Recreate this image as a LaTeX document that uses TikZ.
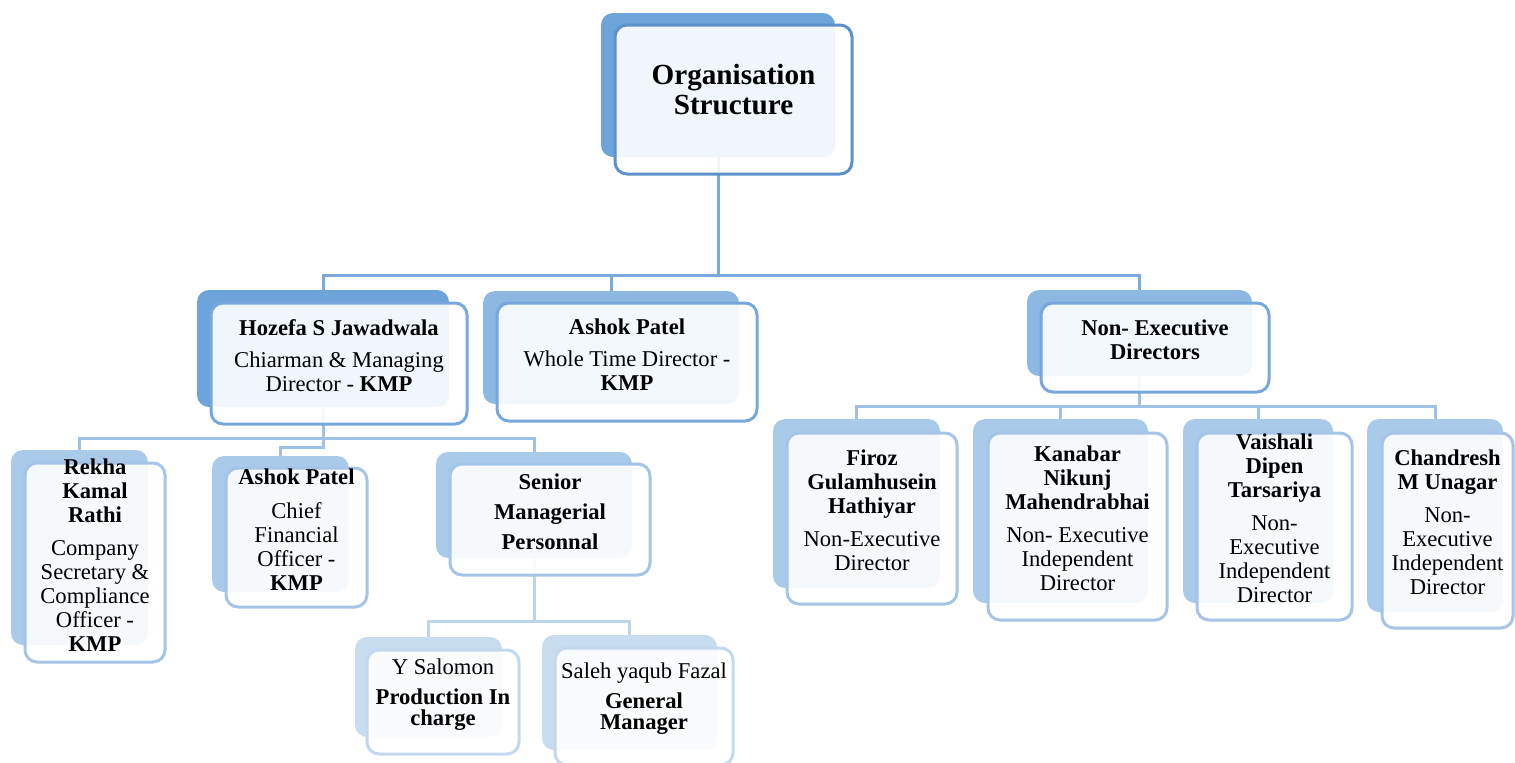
\documentclass[tikz,border=0pt]{standalone}
\usepackage{fontspec}
\setmainfont{Liberation Serif}
\usepackage{tikz}
\usetikzlibrary{fit}
\definecolor{orgDeep}{HTML}{6DA4DA}
\definecolor{orgMid}{HTML}{8CB8E2}
\definecolor{orgSoft}{HTML}{AACAE9}
\definecolor{orgPale}{HTML}{C8DCF0}
\definecolor{orgEdgeTop}{HTML}{5D91CC}
\definecolor{orgEdgeA}{HTML}{78A8DB}
\definecolor{orgEdgeB}{HTML}{A5C4E7}
\definecolor{orgEdgeC}{HTML}{C3D8EF}
\definecolor{orgLinkA}{HTML}{7AAADD}
\definecolor{orgLinkB}{HTML}{A0C1E6}
\definecolor{orgLinkC}{HTML}{BED5EE}

\begin{document}
\begin{tikzpicture}[
  x=0.5pt, y=-0.5pt,
  font=\fontsize{11.3}{12}\selectfont,
  bkbox/.style={draw=none, rounded corners=6pt, inner sep=0pt},
  frbox/.style={draw, line width=1.5pt, fill=white, fill opacity=0.9, text opacity=1,
               rounded corners=6pt, inner sep=0pt, align=center},
  lnk/.style={line width=1.5pt},
]
\useasboundingbox (0,0) rectangle (1515,762);
\clip (0,0) rectangle (1515,762);

% back plates
\node[bkbox, fill=orgDeep, fit={(601,13) (835,157)}] (org-bk) {};
\node[bkbox, fill=orgDeep, fit={(197,290) (449,407)}] (hoz-bk) {};
\node[bkbox, fill=orgMid, fit={(483,291) (739,404)}] (ashw-bk) {};
\node[bkbox, fill=orgMid, fit={(1027,290) (1252,376)}] (ned-bk) {};
\node[bkbox, fill=orgSoft, fit={(11,450) (148,645)}] (rekha-bk) {};
\node[bkbox, fill=orgSoft, fit={(212,456) (349,592)}] (cfo-bk) {};
\node[bkbox, fill=orgSoft, fit={(436,452) (632,558)}] (smp-bk) {};
\node[bkbox, fill=orgPale, fit={(355,637) (502,737)}] (ysal-bk) {};
\node[bkbox, fill=orgPale, fit={(542,635) (717,750)}] (saleh-bk) {};
\node[bkbox, fill=orgSoft, fit={(773,419) (940,588)}] (firoz-bk) {};
\node[bkbox, fill=orgSoft, fit={(973,419) (1148,603)}] (kana-bk) {};
\node[bkbox, fill=orgSoft, fit={(1183,419) (1333,603)}] (vais-bk) {};
\node[bkbox, fill=orgSoft, fit={(1367,419) (1503,612)}] (chan-bk) {};

% connectors
\draw[lnk, draw=orgLinkA] (org-bk.south) -- ++(0,118) -| (hoz-bk.north);
\draw[lnk, draw=orgLinkA] (org-bk.south) -- ++(0,118) -| (ashw-bk.north);
\draw[lnk, draw=orgLinkA] (org-bk.south) -- ++(0,118) -| (ned-bk.north);
\draw[lnk, draw=orgLinkB] (hoz-bk.south) -- ++(0,31) -| (rekha-bk.north);
\draw[lnk, draw=orgLinkB] (hoz-bk.south) -- ++(0,40) -| (cfo-bk.north);
\draw[lnk, draw=orgLinkB] (hoz-bk.south) -- ++(0,31) -| (smp-bk.north);
\draw[lnk, draw=orgLinkC] (smp-bk.south) -- ++(0,63) -| (ysal-bk.north);
\draw[lnk, draw=orgLinkC] (smp-bk.south) -- ++(0,63) -| (saleh-bk.north);
\draw[lnk, draw=orgLinkB] (ned-bk.south) -- ++(0,30) -| (firoz-bk.north);
\draw[lnk, draw=orgLinkB] (ned-bk.south) -- ++(0,30) -| (kana-bk.north);
\draw[lnk, draw=orgLinkB] (ned-bk.south) -- ++(0,30) -| (vais-bk.north);
\draw[lnk, draw=orgLinkB] (ned-bk.south) -- ++(0,30) -| (chan-bk.north);

% front cards
\node[frbox, draw=orgEdgeTop, fit={(615,25) (852,174)}, font=\fontsize{14.6}{15}\selectfont\bfseries] (org)
  {Organisation\\Structure};
\node[frbox, draw=orgEdgeA, fit={(211,303) (467,424)}] (hoz)
  {\textbf{Hozefa S Jawadwala}\\[4pt]Chiarman \& Managing\\Director - \textbf{KMP}};
\node[frbox, draw=orgEdgeA, fit={(497,303) (757,421)}] (ashw)
  {\textbf{Ashok Patel}\\[4pt]Whole Time Director -\\\textbf{KMP}};
\node[frbox, draw=orgEdgeA, fit={(1041,303) (1269,392)}, font=\fontsize{11.3}{12}\selectfont\bfseries] (ned)
  {Non- Executive\\Directors};
\node[frbox, draw=orgEdgeB, fit={(25,463) (165,662)}] (rekha)
  {\textbf{Rekha}\\\textbf{Kamal}\\\textbf{Rathi}\\[4.5pt]Company\\Secretary \&\\Compliance\\Officer -\\\textbf{KMP}};
\node[frbox, draw=orgEdgeB, fit={(226,468) (367,607)}] (cfo)
  {\textbf{Ashok Patel}\\[5pt]Chief\\Financial\\Officer -\\\textbf{KMP}};
\node[frbox, draw=orgEdgeB, fit={(450,464) (650,575)}, font=\fontsize{11.3}{12}\selectfont\bfseries] (smp)
  {Senior\\[3pt]Managerial\\[3pt]Personnal};
\node[frbox, draw=orgEdgeC, fit={(367,650) (519,754)}] (ysal)
  {Y Salomon\\[3pt]\textbf{Production In}\\[-1.5pt]\textbf{charge}};
\node[frbox, draw=orgEdgeC, fit={(555,648) (733,765)}] (saleh)
  {Saleh yaqub Fazal\\[3pt]\textbf{General}\\[-1.5pt]\textbf{Manager}};
\node[frbox, draw=orgEdgeB, fit={(787,433) (957,604)}] (firoz)
  {\textbf{Firoz}\\\textbf{Gulamhusein}\\\textbf{Hathiyar}\\[4.5pt]Non-Executive\\Director};
\node[frbox, draw=orgEdgeB, fit={(988,433) (1167,620)}] (kana)
  {\textbf{Kanabar}\\\textbf{Nikunj}\\\textbf{Mahendrabhai}\\[4.5pt]Non- Executive\\Independent\\Director};
\node[frbox, draw=orgEdgeB, fit={(1197,433) (1352,620)}] (vais)
  {\textbf{Vaishali}\\\textbf{Dipen}\\\textbf{Tarsariya}\\[4.5pt]Non-\\Executive\\Independent\\Director};
\node[frbox, draw=orgEdgeB, fit={(1382,433) (1513,628)}] (chan)
  {\textbf{Chandresh}\\\textbf{M Unagar}\\[4.5pt]Non-\\Executive\\Independent\\Director};
\end{tikzpicture}
\end{document}
